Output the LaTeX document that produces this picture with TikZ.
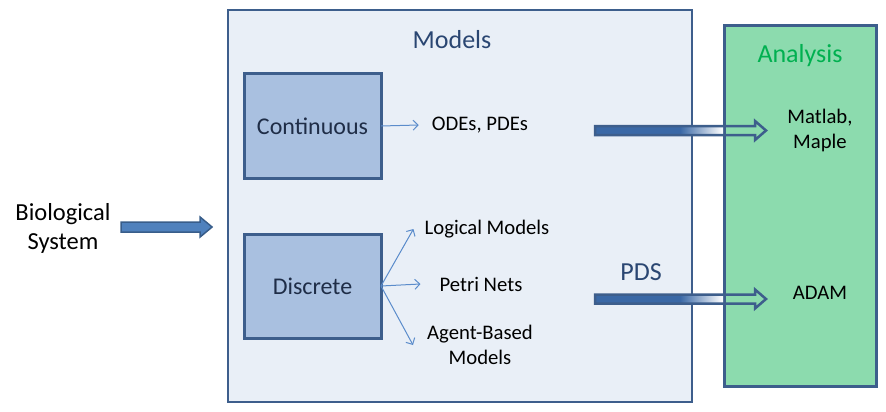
\documentclass[tikz,border=0pt]{standalone}
\usepackage{fontspec}
\setmainfont{Carlito}
\usetikzlibrary{arrows.meta,calc,positioning}
\definecolor{modelsfill}{HTML}{E9EFF7}
\definecolor{edgeblue}{HTML}{3D5E8C}
\definecolor{boxfill}{HTML}{A9C0E0}
\definecolor{anafill}{HTML}{8CDBAE}
\definecolor{anagreen}{HTML}{00B050}
\definecolor{titleblue}{HTML}{2A4672}
\definecolor{darktext}{HTML}{1F2D47}
\definecolor{linkblue}{HTML}{5B8CCB}
\definecolor{fatblue}{HTML}{3A68A6}
\definecolor{bioblue}{HTML}{4F81BD}
\definecolor{bioedge}{HTML}{385D8A}
\tikzset{
    panel/.style={draw=edgeblue, line width=2.5pt, inner sep=0pt, outer sep=0pt},
    modelbox/.style={panel, fill=boxfill, line width=3pt, minimum width=137pt, minimum height=104pt, text=darktext, font=\fontsize{24}{28}\selectfont},
    small/.style={font=\fontsize{20.7}{25}\selectfont, align=center, inner sep=3pt},
    big/.style={font=\fontsize{26}{30}\selectfont, inner sep=0pt},
    link/.style={draw=linkblue, line width=1pt, -{Straight Barb[length=5pt, width=10pt]}}
}

\begin{document}
\begin{tikzpicture}[x=1pt, y=-1pt]
    \useasboundingbox (0, 0) rectangle (886, 412);
    % containers
    \node[panel, fill=modelsfill, minimum width=464pt, minimum height=392pt] (models) at (460, 206) {};
    \node[panel, line width=3pt, fill=anafill, minimum width=152pt, minimum height=360pt] (analysis) at (800, 206) {};
    \node[big, text=titleblue] (modelstitle) at (452, 40) {Models};
    \node[big, text=anagreen] (anatitle) at (800, 56) {Analysis};
    \node[big, text=titleblue] (pds) at (641, 272) {PDS};

    \node[modelbox] (cont) at (312.5, 126) {Continuous};
    \node[modelbox] (disc) at (312.5, 286) {Discrete};

    \node[small] (odes) at (480, 125) {ODEs, PDEs};
    \node[small] (logic) at (487, 229) {Logical Models};
    \node[small] (petri) at (481, 284) {Petri Nets};
    \node[small] (agent) at (480, 345) {Agent-Based\\Models};
    \node[small] (matlab) at (820, 130) {Matlab,\\Maple};
    \node[small] (adam) at (820, 293) {ADAM};
    \node[font=\fontsize{24.5}{29}\selectfont, align=center] (bio) at (63, 228) {Biological\\System};

    \draw[link] (cont.east) -- ([xshift=-10pt]odes.west);
    \draw[link] (disc.east) -- ([xshift=-8pt]logic.west);
    \draw[link] (disc.east) -- ([xshift=-16pt]petri.west);
    \draw[link] (disc.east) -- ([xshift=-11pt]agent.west);

    % fat arrows into analysis
    \coordinate (odesout) at (595, 130.5);
    \coordinate (pdsout) at (595, 299);
    \foreach \s in {odesout, pdsout} {
        \begin{scope}[shift={(\s)}]
            \fill[fatblue] (0, -4.5) rectangle (85, 4.5);
            \shade[left color=fatblue, right color=white] (85, -4.5) rectangle (128, 4.5);
            \draw[edgeblue, line width=2.5pt]
            (0, -4.5) -- (160, -4.5) -- (160, -9.5) -- (171, 0) -- (160, 9.5) -- (160, 4.5) -- (0, 4.5) -- cycle;
        \end{scope}
    }

    \begin{scope}[shift={([xshift=7pt, yshift=1pt]bio.east)}]
        \draw[fill=bioblue, draw=bioedge, line width=1.5pt]
        (0, -5) -- (79, -5) -- (79, -10) -- (91, 0) -- (79, 10) -- (79, 5) -- (0, 5) -- cycle;
    \end{scope}
\end{tikzpicture}
\end{document}
